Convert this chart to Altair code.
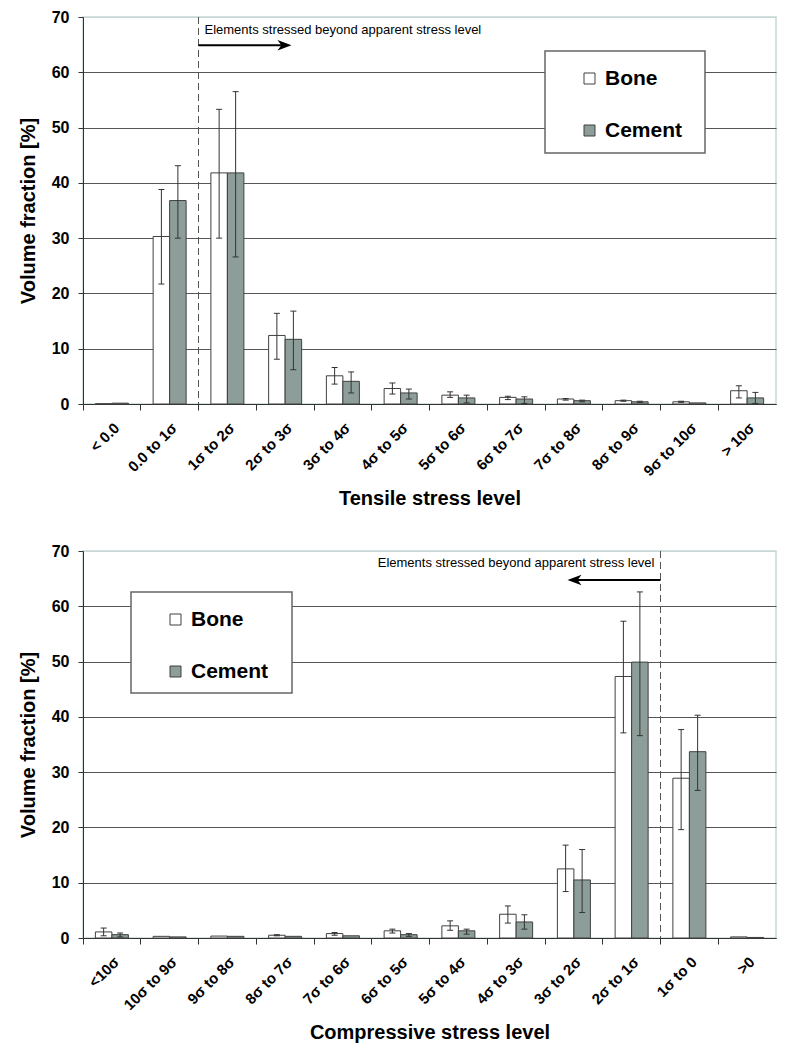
import altair as alt
import pandas as pd

# ---------------- data ----------------
series_names = ["Bone", "Cement"]

tens_cats = ["< 0.0", "0.0 to 1σ", "1σ to 2σ", "2σ to 3σ", "3σ to 4σ", "4σ to 5σ",
             "5σ to 6σ", "6σ to 7σ", "7σ to 8σ", "8σ to 9σ", "9σ to 10σ", "> 10σ"]
tens_bone = [0.05, 30.3, 41.8, 12.4, 5.1, 2.8, 1.6, 1.2, 0.9, 0.6, 0.4, 2.4]
tens_bone_lo = [0.05, 21.7, 30.0, 8.1, 3.6, 1.8, 1.2, 0.8, 0.7, 0.5, 0.3, 1.1]
tens_bone_hi = [0.05, 38.8, 53.3, 16.4, 6.6, 3.8, 2.2, 1.4, 1.0, 0.7, 0.5, 3.3]
tens_cem = [0.15, 36.8, 41.8, 11.7, 4.1, 2.0, 1.1, 0.9, 0.6, 0.4, 0.2, 1.1]
tens_cem_lo = [0.15, 30.0, 26.6, 6.2, 2.0, 0.9, 0.2, 0.1, 0.4, 0.3, 0.2, 0.1]
tens_cem_hi = [0.15, 43.1, 56.5, 16.8, 5.8, 2.7, 1.6, 1.3, 0.7, 0.5, 0.2, 2.1]

comp_cats = ["<10σ", "10σ to 9σ", "9σ to 8σ", "8σ to 7σ", "7σ to 6σ", "6σ to 5σ",
             "5σ to 4σ", "4σ to 3σ", "3σ to 2σ", "2σ to 1σ", "1σ to 0", ">0"]
comp_bone = [1.1, 0.3, 0.35, 0.5, 0.8, 1.3, 2.2, 4.3, 12.5, 47.3, 28.9, 0.2]
comp_bone_lo = [0.4, 0.3, 0.35, 0.4, 0.5, 0.9, 1.4, 2.7, 8.4, 37.1, 19.6, 0.2]
comp_bone_hi = [1.8, 0.3, 0.35, 0.6, 1.0, 1.6, 3.1, 5.8, 16.8, 57.3, 37.7, 0.2]
comp_cem = [0.6, 0.2, 0.3, 0.3, 0.4, 0.6, 1.3, 2.9, 10.5, 49.9, 33.7, 0.1]
comp_cem_lo = [0.2, 0.2, 0.3, 0.3, 0.4, 0.3, 0.7, 1.6, 4.6, 36.6, 26.7, 0.1]
comp_cem_hi = [0.9, 0.2, 0.3, 0.3, 0.4, 0.8, 1.6, 4.2, 16.0, 62.6, 40.3, 0.1]

note_text = "Elements stressed beyond apparent stress level"
y_title = "Volume fraction [%]"
y_ticks = [0, 10, 20, 30, 40, 50, 60, 70]

# ---------------- style ----------------
FONT = "Liberation Sans"
W, H = 693, 387
BONE_FILL = "#ffffff"
CEM_FILL = "#8c9d9a"
EDGE = "#404040"
ERR = "#333333"
GRID = "#555555"


def long_df(cats, b, blo, bhi, c, clo, chi):
    rows = []
    for i, cat in enumerate(cats):
        rows.append(dict(cat=cat, series="Bone", value=b[i], lo=blo[i], hi=bhi[i]))
        rows.append(dict(cat=cat, series="Cement", value=c[i], lo=clo[i], hi=chi[i]))
    return pd.DataFrame(rows)


def panel(df, cats, xtitle, legend_xy, box, dash_cat, text_align, text_dx,
          arrow_dir, text_y, arrow_y):
    xscale = alt.Scale(paddingInner=0, paddingOuter=0)
    xaxis = alt.Axis(title=xtitle, labelAngle=-45, bandPosition=0, tickSize=6,
                     tickColor="#333", domainColor="#333", labelFont=FONT,
                     labelFontSize=15, labelFontWeight="bold", labelColor="#000",
                     labelPadding=10, titleFont=FONT, titleFontSize=20,
                     titleFontWeight="bold", titleColor="#000", titlePadding=10,
                     grid=False)
    yaxis = alt.Axis(title=y_title, values=y_ticks, tickSize=5, tickColor="#333",
                     domainColor="#333", labelFont=FONT, labelFontSize=16,
                     labelFontWeight="bold", labelColor="#000", labelPadding=9,
                     titleFont=FONT, titleFontSize=20, titleFontWeight="bold",
                     titleColor="#000", titlePadding=13, grid=True,
                     gridColor=alt.condition("datum.value >= 70",
                                             alt.value("#c8d6d6"), alt.value(GRID)),
                     gridWidth=1.2)
    xenc = alt.X("cat:N", sort=cats, scale=xscale, axis=xaxis)
    xplain = alt.X("cat:N", sort=cats)
    xoff = alt.XOffset("series:N", sort=series_names,
                       scale=alt.Scale(paddingOuter=0.75, paddingInner=0))

    base = alt.Chart(df)
    bars = base.mark_bar(stroke=EDGE, strokeWidth=1).encode(
        x=xenc,
        y=alt.Y("value:Q", scale=alt.Scale(domain=[0, 70], nice=False), axis=yaxis),
        xOffset=xoff,
        color=alt.Color("series:N", sort=series_names,
                        scale=alt.Scale(domain=series_names, range=[BONE_FILL, CEM_FILL]),
                        legend=alt.Legend(orient="none", legendX=legend_xy[0],
                                          legendY=legend_xy[1], title=None,
                                          symbolType="square", symbolSize=121,
                                          symbolStrokeColor=EDGE, symbolStrokeWidth=1,
                                          symbolOpacity=1,
                                          labelFont=FONT, labelFontSize=21,
                                          labelFontWeight="bold", labelColor="#000",
                                          labelOffset=5, rowPadding=30, padding=0)),
    )
    eb = base.transform_filter("datum.hi > datum.lo")
    err = eb.mark_rule(color=ERR, strokeWidth=1).encode(
        x=xplain, xOffset=xoff, y="lo:Q", y2="hi:Q")
    cap_lo = eb.mark_tick(orient="horizontal", size=6, thickness=1, color=ERR,
                          opacity=1).encode(x=xplain, xOffset=xoff, y="lo:Q")
    cap_hi = eb.mark_tick(orient="horizontal", size=6, thickness=1, color=ERR,
                          opacity=1).encode(x=xplain, xOffset=xoff, y="hi:Q")

    one = alt.Chart(pd.DataFrame({"t": [note_text]}))
    xd = alt.XDatum(dash_cat, type="nominal", bandPosition=0)
    dash = one.mark_rule(color="#555", strokeWidth=1, strokeDash=[7, 4]).encode(x=xd)
    text = one.mark_text(align=text_align, baseline="middle", dx=text_dx, font=FONT,
                         fontSize=13, color="#000").encode(
        x=xd, y=alt.YDatum(text_y, type="quantitative"), text="t:N")
    length = 93
    if arrow_dir > 0:
        line = one.mark_rule(color="#000", strokeWidth=2, x2Offset=length - 8).encode(
            x=xd, x2=alt.X2Datum(dash_cat, bandPosition=0),
            y=alt.YDatum(arrow_y, type="quantitative"))
        head_path = "M 1 0 L -1 -0.75 L -0.45 0 L -1 0.75 Z"
        head = one.mark_point(shape=head_path, filled=True, size=196, color="#000",
                              opacity=1, xOffset=length - 7).encode(
            x=xd, y=alt.YDatum(arrow_y, type="quantitative"))
    else:
        line = one.mark_rule(color="#000", strokeWidth=2, x2Offset=-(length - 8)).encode(
            x=xd, x2=alt.X2Datum(dash_cat, bandPosition=0),
            y=alt.YDatum(arrow_y, type="quantitative"))
        head_path = "M -1 0 L 1 -0.75 L 0.45 0 L 1 0.75 Z"
        head = one.mark_point(shape=head_path, filled=True, size=196, color="#000",
                              opacity=1, xOffset=-(length - 7)).encode(
            x=xd, y=alt.YDatum(arrow_y, type="quantitative"))

    boxl = one.mark_rect(fill="white", stroke="#666", strokeWidth=1.5).encode(
        x=alt.value(box[0]), x2=alt.value(box[1]), y=alt.value(box[2]), y2=alt.value(box[3]))

    return alt.layer(bars, err, cap_lo, cap_hi, dash, text, line, head, boxl).properties(
        width=W, height=H)


tens_df = long_df(tens_cats, tens_bone, tens_bone_lo, tens_bone_hi,
                  tens_cem, tens_cem_lo, tens_cem_hi)
comp_df = long_df(comp_cats, comp_bone, comp_bone_lo, comp_bone_hi,
                  comp_cem, comp_cem_lo, comp_cem_hi)

top = panel(tens_df, tens_cats, "Tensile stress level", (496, 51), (462, 622, 34, 136),
            "1σ to 2σ", "left", 6, 1, 67.6, 64.9)
bottom = panel(comp_df, comp_cats, "Compressive stress level", (82, 58), (48, 209, 41, 142),
               "1σ to 0", "right", -6, -1, 67.8, 64.75)

chart = alt.vconcat(top, bottom, spacing=32).resolve_scale(
    color="independent", xOffset="independent").properties(
    padding={"left": 9, "top": 0, "right": 5, "bottom": 5}
).configure_view(stroke="#c8d6d6", strokeWidth=1.5)

chart.save("out.html", embed_options={"renderer": "svg", "actions": False})
